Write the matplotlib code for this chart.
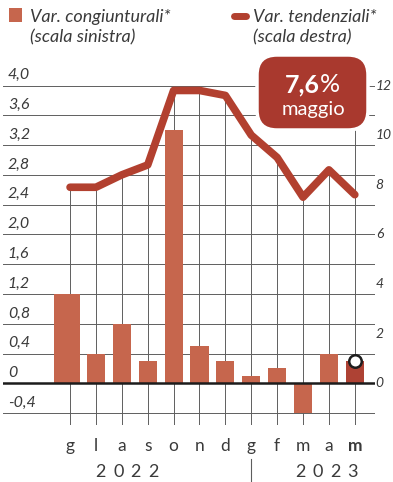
import matplotlib
matplotlib.use("Agg")
import matplotlib.pyplot as plt
from matplotlib.patches import FancyBboxPatch, Rectangle
from matplotlib.lines import Line2D
from matplotlib.transforms import IdentityTransform, blended_transform_factory

# Inflazione: variazioni congiunturali (barre) e tendenziali (linea)
months = ["g", "l", "a", "s", "o", "n", "d", "g", "f", "m", "a", "m"]
monthly = [1.2, 0.4, 0.8, 0.3, 3.4, 0.5, 0.3, 0.1, 0.2, -0.4, 0.4, 0.3]
yearly = [7.9, 7.9, 8.4, 8.8, 11.8, 11.8, 11.6, 10.0, 9.1, 7.5, 8.6, 7.6]
left_ticks = [-0.4, 0, 0.4, 0.8, 1.2, 1.6, 2.0, 2.4, 2.8, 3.2, 3.6, 4.0]
right_ticks = [0, 2, 4, 6, 8, 10, 12]
years = ["2022", "2023"]
last_label = "7,6%"
last_month = "maggio"

BAR = "#c6664d"
BAR_LAST = "#ae4234"
LINE = "#b2402f"
BALLOON = "#a9392e"
GRID = "#5e5e5e"
TEXT = "#3a3a3a"
FONT = ["Lato", "DejaVu Sans"]

W, H = 393, 482
fig = plt.figure(figsize=(W / 100, H / 100), dpi=100)
fig.patch.set_facecolor("white")


def px(x, y):
    # pixel from top-left -> display coords
    return x, H - y


ax = fig.add_axes([3 / W, (H - 425) / H, 372 / W, 373 / H])
ax.set_xlim(-2.59, 11.78)
ax.set_ylim(-0.56, 4.45)
ax.axis("off")

# right scale is three times the left one
scale = 3.0

for v in left_ticks:
    ax.axhline(v, color=GRID, lw=0.7, zorder=1)
ax.axhline(0, color="#1c1c1c", lw=1.8, zorder=4)

xs = list(range(len(months)))
tops = [y / scale for y in yearly]
tops[-1] = 3.42
ax.vlines(xs, -0.56, tops, color=GRID, lw=0.7, zorder=1)

colors = [BAR] * (len(months) - 1) + [BAR_LAST]
widths = [1.0] + [0.7] * (len(months) - 1)
bar_x = [x - 0.13 if i == 0 else x for i, x in enumerate(xs)]
ax.bar(bar_x, monthly, width=widths, color=colors, zorder=2)

ax.plot(xs, [y / scale for y in yearly], color=LINE, lw=5.5,
        solid_capstyle="round", solid_joinstyle="round", zorder=3)

ax.plot(xs[-1], monthly[-1], "o", ms=9, mfc="white", mec="#1e1e1e",
        mew=1.8, zorder=5)

# left tick labels, sitting on top of their lines
ltrans = blended_transform_factory(ax.transAxes, ax.transData)
for v in left_ticks:
    lab = "0" if v == 0 else f"{v:.1f}".replace(".", ",")
    ax.text(0.013, v + 0.085, lab, transform=ltrans, ha="left",
            va="baseline", fontsize=11.5, style="italic", color=TEXT,
            family=FONT)

# right tick labels
for r in right_ticks:
    ax.text(1.002, r / scale, str(r), transform=ltrans, ha="left",
            va="center", fontsize=10, style="italic", color=TEXT,
            family=FONT, clip_on=False)

# month labels
mtrans = blended_transform_factory(ax.transData, ax.transAxes)
for i, m in enumerate(months):
    ax.text(i, -0.055, m, transform=mtrans, ha="center", va="center",
            fontsize=12.5, color=TEXT, family=FONT,
            weight="bold" if i == len(months) - 1 else "normal")

# years, spaced out
for cx, yr in zip([2.2, 9.9], years):
    for k, ch in enumerate(yr):
        ax.text(cx + (k - 1.5) * 0.675, -0.125, ch, transform=mtrans,
                ha="center", va="center", fontsize=13, color=TEXT,
                family=FONT)
ax.add_line(Line2D([7, 7], [-0.09, -0.16], transform=mtrans, color=GRID,
                   lw=0.8, clip_on=False))

# balloon with the last value
x0, y0 = px(257, 130)
fig.add_artist(FancyBboxPatch((x0, y0), 111, 75,
                              boxstyle="round,pad=0,rounding_size=20",
                              transform=IdentityTransform(), fc=BALLOON,
                              ec="white", lw=2.5, zorder=6))
num, pct = last_label[:-1], last_label[-1]
bx, by = px(320, 92)
fig.text(bx / W, by / H, num, ha="right", va="baseline", fontsize=18,
         weight="bold", color="white", family=FONT, zorder=7)
fig.text(bx / W, by / H, pct, ha="left", va="baseline", fontsize=18,
         color="white", family=FONT, zorder=7)
mx, my = px(313, 115)
fig.text(mx / W, my / H, last_month, ha="center", va="baseline",
         fontsize=14.5, color="white", family=FONT, zorder=7)

# legend
sx, sy = px(9, 22)
fig.add_artist(Rectangle((sx, sy), 13, 14, transform=IdentityTransform(),
                         fc=BAR, ec="none"))
lx1, ly1 = px(234, 16)
lx2, _ = px(246, 16)
fig.add_artist(Line2D([lx1, lx2], [ly1, ly1], transform=IdentityTransform(),
                      color=LINE, lw=5, solid_capstyle="round"))
for tx, lines in [(30, ["Var. congiunturali*", "(scala sinistra)"]),
                  (253, ["Var. tendenziali*", "(scala destra)"])]:
    for j, s in enumerate(lines):
        x, y = px(tx, 22 + j * 20)
        fig.text(x / W, y / H, s, ha="left", va="baseline", fontsize=13,
                 style="italic", color=TEXT, family=FONT)

fig.savefig("out.png", dpi=100)
